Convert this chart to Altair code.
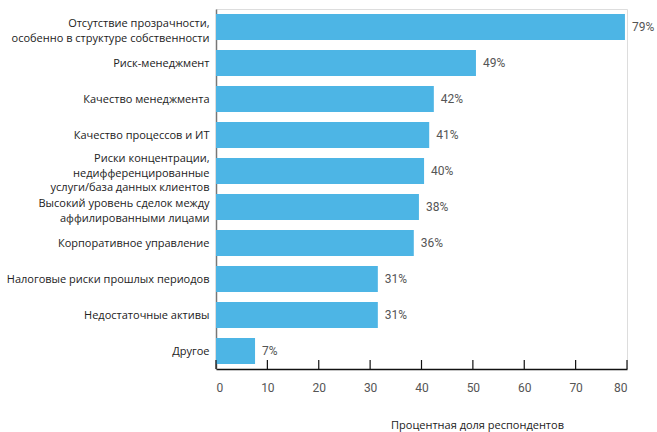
import altair as alt
import pandas as pd

categories = [
    "Отсутствие прозрачности,\nособенно в структуре собственности",
    "Риск-менеджмент",
    "Качество менеджмента",
    "Качество процессов и ИТ",
    "Риски концентрации,\nнедифференцированные\nуслуги/база данных клиентов",
    "Высокий уровень сделок между\nаффилированными лицами",
    "Корпоративное управление",
    "Налоговые риски прошлых периодов",
    "Недостаточные активы",
    "Другое",
]
bar_values = [79.6, 50.6, 42.4, 41.5, 40.5, 39.5, 38.5, 31.5, 31.5, 7.6]
value_labels = ["79%", "49%", "42%", "41%", "40%", "38%", "36%", "31%", "31%", "7%"]
x_ticks = [0, 10, 20, 30, 40, 50, 60, 70, 80]

df = pd.DataFrame({"cat": categories, "val": bar_values, "lbl": value_labels})
ticks_df = pd.DataFrame({"t": x_ticks})

xscale = alt.Scale(domain=[0, 80], nice=False, zero=True)
yscale = alt.Scale(paddingInner=0.28, paddingOuter=0.14)

label_offset = {
    "condition": [
        {"test": "length(split(datum.value, '\\n')) == 3", "value": -12},
        {"test": "length(split(datum.value, '\\n')) == 2", "value": -3},
    ],
    "value": 1,
}

x_enc = alt.X(
    "val:Q",
    scale=xscale,
    axis=alt.Axis(
        values=x_ticks,
        ticks=False,
        grid=False,
        domainColor="#111111",
        domainWidth=1.5,
        labelFont="Roboto",
        labelFontSize=12,
        labelColor="#555555",
        labelPadding=13,
        title="Процентная доля респондентов",
        titleFont="Open Sans",
        titleFontSize=11,
        titleFontWeight="normal",
        titleColor="#222222",
        titleX=261,
        titleY=56,
        titleBaseline="middle",
    ),
)
y_enc = alt.Y(
    "cat:N",
    sort=categories,
    scale=yscale,
    axis=alt.Axis(
        title=None,
        ticks=False,
        grid=False,
        domainColor="#777777",
        domainWidth=1.5,
        labelFont="Open Sans",
        labelFontSize=11,
        labelColor="#222222",
        labelPadding=7,
        labelLimit=400,
        labelLineHeight=14.5,
        labelBaseline="middle",
        labelOffset=label_offset,
        labelExpr="split(datum.label, '\\n')",
    ),
)

bars = alt.Chart(df).mark_bar(color="#4db5e5").encode(x=x_enc, y=y_enc)

text = alt.Chart(df).mark_text(
    align="left", baseline="middle", dx=7, font="Roboto", fontSize=12, color="#555555"
).encode(
    x=alt.X("val:Q", scale=xscale),
    y=alt.Y("cat:N", sort=categories, scale=yscale),
    text="lbl:N",
)

tick_rules = alt.Chart(ticks_df).mark_rule(color="#111111", strokeWidth=1.2).encode(
    x=alt.X("t:Q", scale=xscale),
    y=alt.value(351),
    y2=alt.value(360),
)

chart = (
    alt.layer(bars, text, tick_rules)
    .properties(
        width=411,
        height=360,
        autosize=alt.AutoSizeParams(type="none"),
        padding={"left": 216, "top": 9, "right": 30, "bottom": 63},
    )
    .configure_view(stroke=None)
    .configure(background="white")
)

chart.save("out.html", embed_options={"renderer": "svg", "actions": False})
